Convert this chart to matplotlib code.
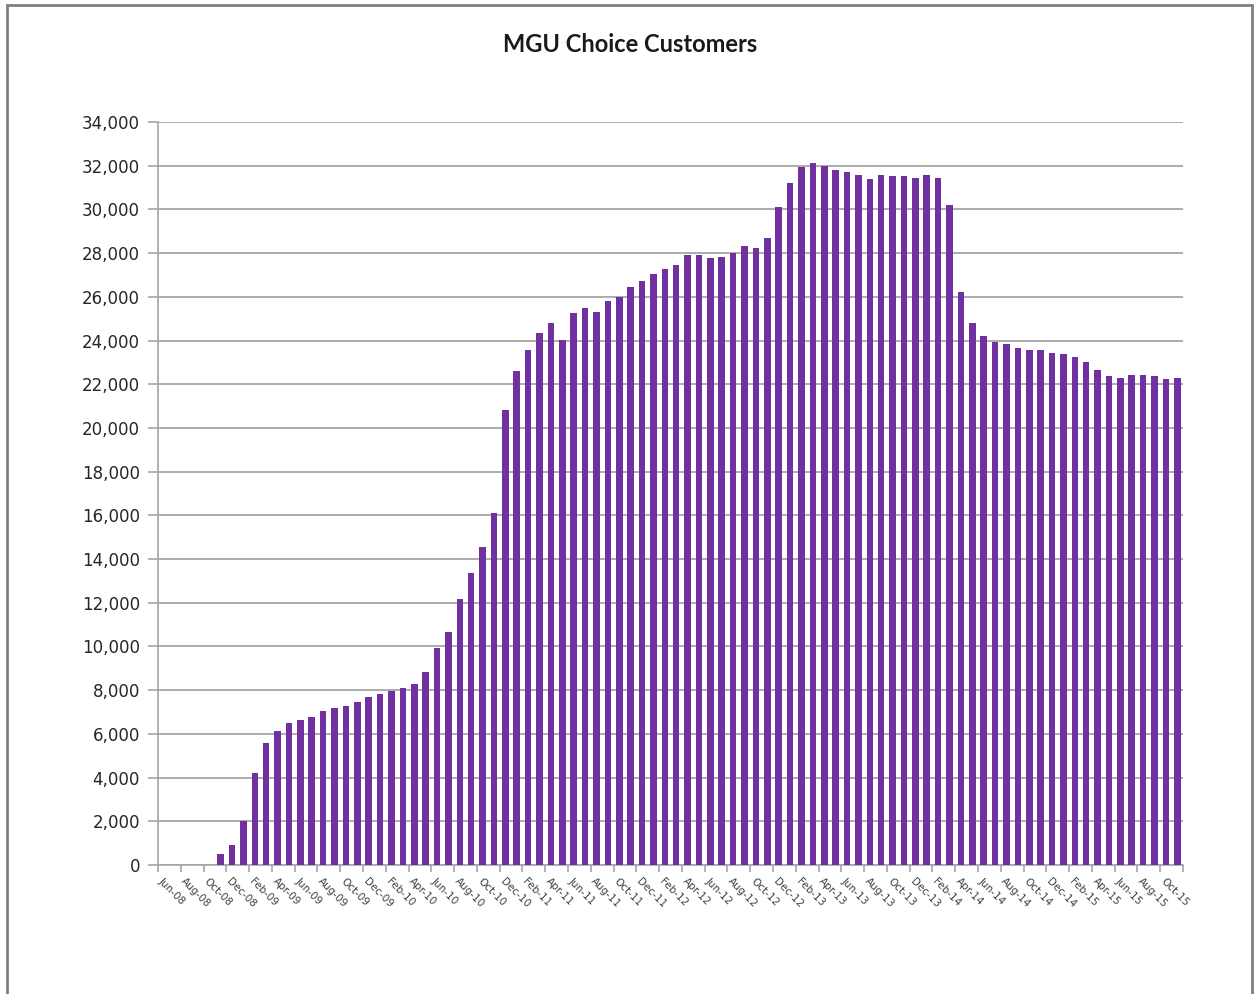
import pandas as pd
import matplotlib
matplotlib.use('Agg')
import matplotlib.pyplot as plt
from matplotlib.patches import Rectangle
from matplotlib.ticker import FuncFormatter, FixedLocator

# MGU choice customers per month, Jun-08 .. Nov-15
months = pd.date_range('2008-06-01', periods=90, freq='MS').strftime('%b-%y').tolist()

customers_2008 = [0, 0, 0, 0, 0, 500, 930]
customers_2009 = [2000, 4200, 5560, 6150, 6520, 6650, 6760, 7060, 7180, 7290, 7470, 7700]
customers_2010 = [7830, 7970, 8120, 8260, 8850, 9950, 10660, 12150, 13350, 14550, 16100, 20800]
customers_2011 = [22600, 23570, 24350, 24780, 24040, 25250, 25500, 25310, 25820, 25970, 26430, 26720]
customers_2012 = [27030, 27270, 27460, 27900, 27900, 27760, 27800, 27990, 28320, 28250, 28670, 30120]
customers_2013 = [31190, 31940, 32110, 31990, 31810, 31700, 31580, 31390, 31580, 31520, 31520, 31440]
customers_2014 = [31580, 31440, 30180, 26230, 24820, 24230, 23920, 23860, 23680, 23550, 23550, 23450]
customers_2015 = [23380, 23260, 23020, 22660, 22360, 22300, 22420, 22420, 22360, 22240, 22300]

customers = (customers_2008 + customers_2009 + customers_2010 + customers_2011
             + customers_2012 + customers_2013 + customers_2014 + customers_2015)

df = pd.DataFrame({'month': months, 'customers': customers})

fig = plt.figure(figsize=(12.54, 9.94), dpi=100)
ax = fig.add_axes([158 / 1254, 1 - 865 / 994, (1183 - 158) / 1254, (865 - 122) / 994])

x = range(len(df))
ax.bar(x, df['customers'], width=0.58, color='#7030A0', zorder=3)

ax.set_xlim(-0.5, len(df) - 0.5)
ax.set_ylim(0, 34000)
ax.set_yticks(range(0, 34001, 2000))
ax.yaxis.set_major_formatter(FuncFormatter(lambda v, p: f'{int(v):,}'))
ax.grid(axis='y', color='#A6A6A6', linewidth=1.3, zorder=0)

# labels every second month, tick marks on category boundaries
ax.set_xticks(list(range(0, len(df), 2)))
ax.set_xticklabels(df['month'][::2], rotation=-45, ha='left', va='top',
                   rotation_mode='anchor', fontsize=7.5, color='#404040')
ax.tick_params(axis='x', which='major', length=0, pad=8)
ax.xaxis.set_minor_locator(FixedLocator([i - 0.5 for i in range(0, len(df) + 1, 2)]))
ax.tick_params(axis='x', which='minor', length=5, color='#A6A6A6', width=1.2)
ax.tick_params(axis='y', length=7, color='#A6A6A6', width=1.2, labelsize=12,
               labelcolor='#262626', pad=6)

for side in ['top', 'right']:
    ax.spines[side].set_visible(False)
for side in ['left', 'bottom']:
    ax.spines[side].set_color('#A6A6A6')
    ax.spines[side].set_linewidth(1.2)

fig.text(630 / 1254, 1 - 44 / 994, 'MGU Choice Customers', ha='center', va='center',
         fontsize=17, fontweight='bold', family=['Lato', 'DejaVu Sans'], color='#1a1a1a')

# chart border
fig.patches.append(Rectangle((7 / 1254, -0.01), (1252 - 7) / 1254, 1 - 5 / 994 + 0.01,
                             transform=fig.transFigure, fill=False,
                             edgecolor='#7F7F7F', linewidth=2))

fig.savefig('out.png', dpi=100)
